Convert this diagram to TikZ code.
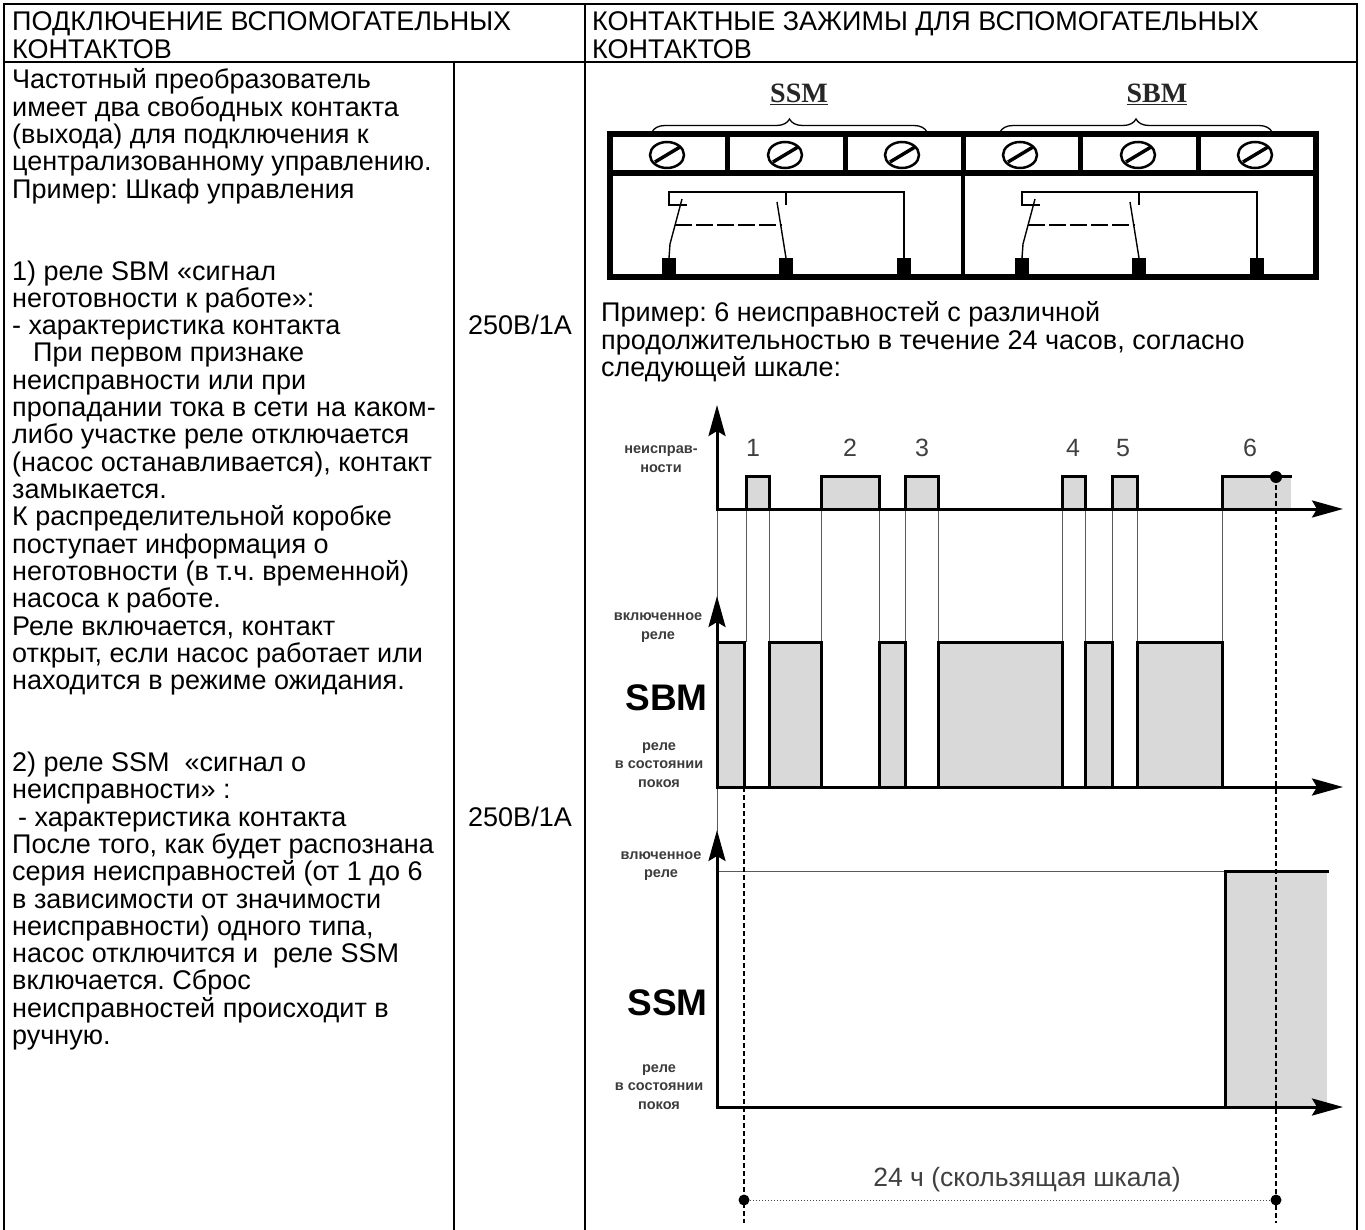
\documentclass[tikz,border=0pt]{standalone}
\usepackage{fontspec}
\setmainfont{Liberation Sans}
\newfontfamily\labelserif{Liberation Serif}
\usetikzlibrary{arrows.meta,calc,decorations.pathreplacing}
\frenchspacing

\definecolor{pulsegray}{HTML}{D9D9D9}
\definecolor{labelgray}{HTML}{3C3C3C}
\def\screw(#1,#2){\draw[line width=2.5pt,fill=white] (#1,#2) ellipse [x radius=17pt,y radius=13pt];
  \draw[line width=3.5pt] ($(#1,#2)+(-12,7)$) -- ($(#1,#2)+(13,-8)$);}

\begin{document}
\begin{tikzpicture}[x=1pt,y=-1pt,
    txt/.style={anchor=base west,inner sep=0pt,font=\fontsize{27}{27.3}\selectfont},
    tableline/.style={line width=2.2pt},
    bar/.style={line width=6pt},
    wire/.style={line width=1.4pt},
    axis/.style={line width=3pt,-{Stealth[length=31pt,width=17pt,inset=5pt]}},
    pulse/.style={line width=3pt,fill=pulsegray},
    guide/.style={line width=0.9pt,black!65},
    lbl/.style={align=center,inner sep=0pt,text=labelgray,font=\bfseries\fontsize{14.5}{18.5}\selectfont},
    relay/.style={anchor=east,inner sep=0pt,font=\bfseries\fontsize{37}{37}\selectfont},
    num/.style={inner sep=0pt,text=black!75,font=\fontsize{25}{25}\selectfont}]
\useasboundingbox (0,0) rectangle (1365,1230);
%%%%% TABLE %%%%%
\draw[tableline] (1357,1230) -- (1357,4) -- (4,4) -- (4,1230);
\draw[tableline] (4,62) -- (1357,62);
\draw[tableline] (585,4) -- (585,1230);
\draw[tableline] (454,62) -- (454,1230);

\node[txt] (headl1) at (12,31) {ПОДКЛЮЧЕНИЕ ВСПОМОГАТЕЛЬНЫХ};
\node[txt] (headl2) at (12,58.5) {КОНТАКТОВ};
\node[txt] (headr1) at (592,31) {КОНТАКТНЫЕ ЗАЖИМЫ ДЛЯ ВСПОМОГАТЕЛЬНЫХ};
\node[txt] (headr2) at (592,58.5) {КОНТАКТОВ};

% left column, one node per printed line
\foreach \n/\t in {1/{Частотный преобразователь},2/{имеет два свободных контакта},
    3/{(выхода) для подключения к},4/{централизованному управлению.},
    5/{Пример: Шкаф управления},8/{1) реле SBM «сигнал},9/{неготовности к работе»:},
    10/{- характеристика контакта},11/{\hspace*{21pt}При первом признаке},
    12/{неисправности или при},13/{пропадании тока в сети на каком-},
    14/{либо участке реле отключается},15/{(насос останавливается), контакт},
    16/{замыкается.},17/{К распределительной коробке},18/{поступает информация о},
    19/{неготовности (в т.ч. временной)},20/{насоса к работе.},
    21/{Реле включается, контакт},22/{открыт, если насос работает или},
    23/{находится в режиме ожидания.},26/{2) реле SSM\ \ «сигнал о},
    27/{неисправности» :},28/{\hspace*{6pt}- характеристика контакта},
    29/{После того, как будет распознана},30/{серия неисправностей (от 1 до 6},
    31/{в зависимости от значимости},32/{неисправности) одного типа,},
    33/{насос отключится и\ \ реле SSM},34/{включается. Сброс},
    35/{неисправностей происходит в},36/{ручную.}}
  \node[txt] (line\n) at (12,{89+27.3*(\n-1)}) {\t};

\node[txt] (rate1) at (468,334.7) {250В/1А};
\node[txt] (rate2) at (468,826.1) {250В/1А};

\node[txt] (ex1) at (601,322) {Пример: 6 неисправностей с различной};
\node[txt] (ex2) at (601,349.5) {продолжительностью в течение 24 часов, согласно};
\node[txt] (ex3) at (601,377) {следующей шкале:};

%%%%% TERMINAL BLOCK %%%%%
\draw[bar] (610,134.5) rectangle (1316,277);
\draw[bar] (610,173) -- (1316,173);
\foreach \x in {727.7,845.3,963,1080.7,1198.3}
  \draw[line width=5pt] (\x,134.5) -- (\x,173);
\draw[line width=3.5pt] (963,173) -- (963,277);
\foreach \x in {667,785,902,1020,1138,1255}
  \screw(\x,155);

\foreach \s in {0,353}{
  \begin{scope}[xshift=\s pt]
    \foreach \x in {669,786,904}
      \fill (\x-7,258) rectangle (\x+7,276);
    \draw[wire] (687,205) -- (669,205) -- (669,192) -- (904,192) -- (904,258);
    \draw[wire] (786,192) -- (786,205);
    \draw[wire] (669,258) -- (670,244) -- (682,199);
    \draw[wire] (786,258) -- (777,202);
    \draw[wire,dash pattern=on 17pt off 4pt] (675,225) -- (782,225);
  \end{scope}
}

\draw[line width=1.3pt,decorate,decoration={brace,amplitude=13pt}] (652,132) -- (927,132);
\draw[line width=1.3pt,decorate,decoration={brace,amplitude=13pt}] (1000,132) -- (1272,132);
\node[text=black!85,font=\labelserif\bfseries\fontsize{28}{28}\selectfont] (ssmtag) at (799,94) {\underline{SSM}};
\node[text=black!85,font=\labelserif\bfseries\fontsize{28}{28}\selectfont] (sbmtag) at (1157,94) {\underline{SBM}};

%%%%% FAULTS %%%%%
\foreach \x in {746,769,821,879,905,938,1062,1085,1112,1137,1222}
  \draw[guide] (\x,509) -- (\x,642);
\draw[guide] (717,509) -- (717,832);
\foreach \a/\b in {746/769,821/879,905/938,1062/1085,1112/1137}
  \draw[pulse] (\a,509) -- (\a,476) -- (\b,476) -- (\b,509);
\fill[pulsegray] (1222,476) rectangle (1291,509);
\draw[line width=3pt] (1222,509) -- (1222,476) -- (1292,476);
\draw[axis] (717,510.5) -- (717,405);
\draw[axis] (715.5,509) -- (1343,509);
\foreach \x/\n in {753/1,850/2,922/3,1073/4,1123/5,1250/6}
  \node[num] (fault\n) at (\x,448) {\n};
\node[lbl] (faultlbl) at (661,459) {неисправ-\\ности};

%%%%% SBM %%%%%
\foreach \a/\b in {717/744,769/821,879/905,938/1062,1085/1112,1137/1222}
  \draw[pulse] (\a,787) -- (\a,642) -- (\b,642) -- (\b,787);
\draw[axis] (717,788.5) -- (717,596);
\draw[axis] (715.5,787) -- (1343,787);
\node[lbl] (sbmon) at (658,627.5) {включенное\\реле};
\node[relay] (sbm) at (708,698) {SBM};
\node[lbl] (sbmoff) at (659,765) {реле\\в состоянии\\покоя};

%%%%% SSM %%%%%
\draw[guide] (717,871) -- (1225,871);
\fill[pulsegray] (1225,871) rectangle (1327,1107);
\draw[line width=3pt] (1225,1107) -- (1225,871) -- (1329,871);
\draw[axis] (717,1108.5) -- (717,830);
\draw[axis] (715.5,1107) -- (1343,1107);
\node[lbl] (ssmon) at (661,866) {влюченное\\реле};
\node[relay] (ssm) at (708,1003) {SSM};
\node[lbl] (ssmoff) at (659,1087) {реле\\в состоянии\\покоя};

%%%%% 24 H %%%%%
\coordinate (t0) at (744,1200);
\coordinate (t24) at (1276,1200);
\draw[line width=1.3pt,dash pattern=on 5pt off 3pt] (744,787) -- (744,1223);
\draw[line width=1.3pt,dash pattern=on 5pt off 3pt] (1276,477) -- (1276,1223);
\draw[line width=1pt,black!70,dotted] (t0) -- (t24);
\fill (t0) circle[radius=5.5pt];
\fill (t24) circle[radius=5.5pt];
\fill (1276,477) circle[radius=6pt];
\node[num,font=\fontsize{26.5}{26.5}\selectfont] (span) at (1027,1180) {24 ч (скользящая шкала)};
\end{tikzpicture}
\end{document}
